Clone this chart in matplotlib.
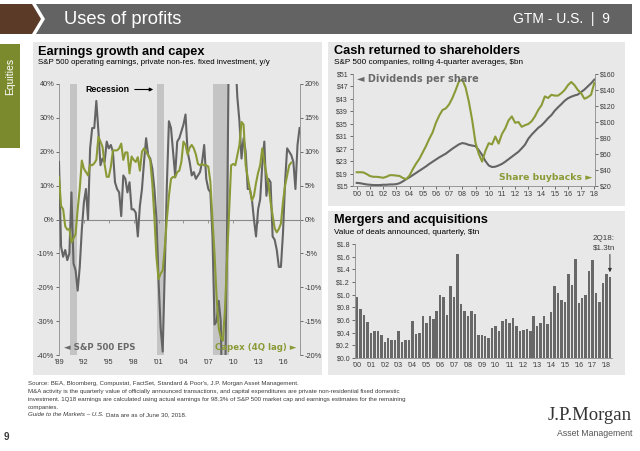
import numpy as np
import matplotlib
matplotlib.use('Agg')
import matplotlib.pyplot as plt
from matplotlib.patches import Polygon, Rectangle

plt.rcParams['font.family'] = ['Liberation Sans', 'DejaVu Sans']

# ---------------- data ----------------
# Earnings growth and capex (quarterly, y/y %), starting 1989 Q1
eps_start = 1989.0
eps_yoy = [17, -8, -11, -9,
           -12, -10, 8, -13,
           -15, -21, -14, -3,
           5, 9, 0, 21,
           27, 27, 35, 26,
           16, 18, 17, 23,
           21, 22, 20, 11,
           9, 8, 1, 13,
           12, 8, 11, 3,
           3, 2, -5, 4,
           9, 17, 24, 19,
           18, 15, 9, 0,
           -18, -32, -39, -15,
           10, 29, 27, 20,
           13, 23, 24, 26,
           28, 31, 20, 17,
           13, 14, 12, 13,
           14, 17, 22, 12,
           9, 8, -5, -31,
           -30, -24, -30, -65,
           -55, -5, 60, 150,
           80, 48, 36, 29,
           18, 24, 20, 9,
           9, 6, 0, -5,
           3, 6, 16, 23,
           7, 12, 11, -5,
           -6, -9, -14, -14,
           -4, 11, 21, 20,
           19, 17, 9, 22,
           27]
capex_start = 1989.0
capex_yoy = [6.3, 2.0, 1.5, -1.0,
             -1.5, -1.4, -3.4, -2.8,
             -2.2, 1.5, 4.5, 8.7,
             7.5, 7.0, 6.5, 8.1,
             8.0, 8.3, 8.8, 12.2,
             11.5, 10.7, 8.1, 6.3,
             6.3, 7.8, 10.2, 10.2,
             10.2, 10.5, 11.2, 8.8,
             9.9, 9.9, 6.8, 9.3,
             8.8, 8.5, 9.2, 7.2,
             10.0, 10.5, 10.0, 9.5,
             8.7, 5.3, 0.3, -5.6,
             -8.8, -8.0, -7.5, -4.1,
             0.0, 3.5, 6.0, 6.3,
             6.2, 7.0, 7.2, 8.5,
             11.5, 11.0, 9.6, 10.6,
             11.0, 10.5, 9.6, 8.2,
             8.0, 8.2, 8.0, 8.0,
             7.8, 5.5, 0.0, -5.1,
             -11.5, -16.0, -17.4, -17.9,
             -13.5, -6.0, 1.0, 8.0,
             8.2, 8.0, 9.5, 11.0,
             14.4, 14.0, 8.0, 6.2,
             4.5, 2.8, 3.5, 5.4,
             6.9, 8.0, 10.5, 8.5,
             6.7, 5.2, 2.6, 0.6,
             -1.3, -1.9, -1.4, -0.6,
             2.6, 5.0, 6.5, 8.0,
             8.4]
recession_start = [1990.35, 2000.85, 2007.6]
recession_end = [1991.15, 2001.7, 2009.45]
left_years = [1989, 1992, 1995, 1998, 2001, 2004, 2007, 2010, 2013, 2016]
left_year_labels = ["'89", "'92", "'95", "'98", "'01", "'04", "'07", "'10", "'13", "'16"]

# Cash returned to shareholders (quarterly rolling 4Q), starting 2000 Q1
cash_start = 2000.0
dividends = [16.0, 15.9, 15.7, 15.5,
             15.4, 15.3, 15.3, 15.3,
             15.4, 15.4, 15.5, 15.5,
             15.6, 15.9, 16.5, 17.2,
             17.8, 18.5, 19.2, 19.9,
             20.6, 21.3, 22.1, 22.8,
             23.5, 24.2, 24.8, 25.4,
             26.2, 27.0, 27.7, 28.4,
             28.8, 28.6, 28.2, 28.0,
             27.8, 26.5, 25.0, 23.0,
             21.6, 21.1, 21.2, 21.6,
             22.1, 22.8, 23.6, 24.4,
             25.2, 26.0, 27.1, 28.3,
             30.2, 31.5, 32.6, 33.7,
             34.5, 35.6, 36.8, 37.8,
             39.2, 40.3, 41.3, 42.4,
             43.2, 43.7, 44.1, 44.4,
             45.2, 46.0, 47.0, 48.0,
             49.2]
buybacks = [37.2, 37.2, 37.0, 35.0,
            32.5, 31.5, 31.5, 31.0,
            30.3, 31.5, 33.5, 33.5,
            33.0, 32.5, 30.0, 28.5,
            33.0, 41.0, 48.0, 54.0,
            62.0, 70.0, 79.0, 87.0,
            99.0, 108.0, 115.0, 117.0,
            122.0, 130.0, 140.0, 151.0,
            153.0, 143.0, 125.0, 102.0,
            74.0, 60.0, 50.5, 64.0,
            73.5, 72.0, 81.8, 73.0,
            85.0, 92.0, 102.0, 107.0,
            99.0, 100.0, 94.0, 96.0,
            97.5, 101.0, 107.0, 115.0,
            121.0, 132.0, 130.0, 134.0,
            133.0, 133.0, 136.0, 140.0,
            146.0, 150.0, 146.0, 140.0,
            136.0, 129.0, 131.0, 134.0,
            149.0]
cash_years = list(range(2000, 2019))
short_year_labels = ["'%02d" % (y % 100) for y in cash_years]

# M&A, value of deals announced quarterly ($tn), 1Q00 - 2Q18
ma_values = [0.97, 0.77, 0.68, 0.57,
             0.40, 0.42, 0.42, 0.36,
             0.25, 0.31, 0.29, 0.28,
             0.42, 0.26, 0.29, 0.28,
             0.59, 0.38, 0.40, 0.66,
             0.56, 0.66, 0.61, 0.74,
             0.99, 0.96, 0.68, 1.13,
             0.96, 1.64, 0.85, 0.75,
             0.66, 0.75, 0.70, 0.37,
             0.37, 0.35, 0.31, 0.48,
             0.50, 0.42, 0.59, 0.62,
             0.55, 0.63, 0.51, 0.43,
             0.44, 0.46, 0.43, 0.67,
             0.51, 0.55, 0.66, 0.53,
             0.72, 1.13, 1.03, 0.92,
             0.89, 1.32, 1.15, 1.56,
             0.87, 0.94, 0.99, 1.38,
             1.54, 1.03, 0.88, 1.19,
             1.32, 1.28]

# ---------------- styles ----------------
GRAY_LINE = '#646464'
GREEN = '#8b9a36'
PANEL = '#e8e8e8'
TXT = '#3a3a3a'
TICK = '#3a3a3a'

W, H = 640, 451
fig = plt.figure(figsize=(6.4, 4.51), dpi=100)
fig.patch.set_facecolor('white')

bg = fig.add_axes([0, 0, 1, 1], zorder=0)
bg.set_xlim(0, W)
bg.set_ylim(H, 0)
bg.axis('off')


def axes_px(x0, y0, x1, y1):
    return fig.add_axes([x0 / W, 1 - y1 / H, (x1 - x0) / W, (y1 - y0) / H], zorder=1)


# header
bg.add_patch(Polygon([(0, 4), (32, 4), (41, 19), (32, 34), (0, 34)], closed=True,
                     color='#5b3a28', lw=0))
bg.add_patch(Polygon([(36, 4), (632, 4), (632, 34), (36, 34), (45, 19)], closed=True,
                     color='#636363', lw=0))
head_font = ['Liberation Sans Narrow', 'Liberation Sans', 'DejaVu Sans']
bg.text(64, 19.5, 'Uses of profits', color='white', fontsize=13.2, va='center',
        ha='left', family=head_font)
bg.text(610, 19.5, 'GTM - U.S.  |  9', color='white', fontsize=10, va='center',
        ha='right', family=head_font)

# equities tab
bg.add_patch(Rectangle((0, 44), 20, 104, color='#7c8a2e', lw=0))
bg.text(10, 76, 'Equities', color='white', rotation=90, fontsize=7.5,
        ha='center', va='center', family=head_font)

# panels
bg.add_patch(Rectangle((33, 42), 289, 333, color=PANEL, lw=0))
bg.add_patch(Rectangle((328, 42), 297, 164, color=PANEL, lw=0))
bg.add_patch(Rectangle((328, 211), 297, 164, color=PANEL, lw=0))

# panel titles
bg.text(38, 51.5, 'Earnings growth and capex', fontsize=9.2, fontweight='bold',
        color='black', va='center')
bg.text(38, 63, 'S&P 500 operating earnings, private non-res. fixed investment, y/y',
        fontsize=5.7, color='black', va='center')
bg.text(334, 51.5, 'Cash returned to shareholders', fontsize=9.2, fontweight='bold',
        color='black', va='center')
bg.text(334, 63, 'S&P 500 companies, rolling 4-quarter averages, $bn',
        fontsize=5.9, color='black', va='center')
bg.text(334, 220.5, 'Mergers and acquisitions', fontsize=9.2, fontweight='bold',
        color='black', va='center')
bg.text(334, 232, 'Value of deals announced, quarterly, $tn',
        fontsize=5.9, color='black', va='center')


def style_ticks(ax, size=5.3):
    ax.tick_params(labelsize=size, colors=TICK, length=2, width=0.5, pad=1.5)


# ---------------- left chart ----------------
ax1 = axes_px(59, 84, 300, 355)
ax1.set_facecolor('none')
ax1.set_xlim(1989, 2018.05)
ax1.set_ylim(-40, 40)
for s, e in zip(recession_start, recession_end):
    ax1.axvspan(s, e, color='#c4c4c4', lw=0, zorder=0)
ax1.axhline(0, color='#8a8a8a', lw=0.8, zorder=1)
ax1.vlines(left_years[1:], -0.9, 0, color='#8a8a8a', lw=0.6, zorder=1)
t_eps = eps_start + 0.25 * np.arange(len(eps_yoy))
ax1.plot(t_eps, eps_yoy, color=GRAY_LINE, lw=1.5, zorder=3)
ax1.set_yticks(range(-40, 41, 10))
ax1.set_yticklabels(['%d%%' % v for v in range(-40, 41, 10)])
ax1.set_xticks(left_years)
ax1.set_xticklabels(left_year_labels)
style_ticks(ax1)
ax1.tick_params(axis='x', length=0, pad=3)
for sp in ['top', 'bottom', 'right']:
    ax1.spines[sp].set_visible(False)
ax1.spines['left'].set_color('#8a8a8a')
ax1.spines['left'].set_linewidth(0.6)

ax2 = ax1.twinx()
ax2.set_ylim(-20, 20)
t_capex = capex_start + 0.25 * np.arange(len(capex_yoy))
ax2.plot(t_capex, capex_yoy, color=GREEN, lw=1.5, zorder=4)
ax2.set_yticks(range(-20, 21, 5))
ax2.set_yticklabels(['%d%%' % v for v in range(-20, 21, 5)])
style_ticks(ax2)
for sp in ['top', 'bottom', 'left']:
    ax2.spines[sp].set_visible(False)
ax2.spines['right'].set_color('#8a8a8a')
ax2.spines['right'].set_linewidth(0.6)

# ---------------- right top chart ----------------
ax3 = axes_px(353, 74, 595, 186)
ax3.set_facecolor('none')
ax3.set_xlim(1999.72, 2018.05)
ax3.set_ylim(15, 51)
t_cash = cash_start + 0.25 * np.arange(len(dividends))
ax3.plot(t_cash, dividends, color=GRAY_LINE, lw=1.5, zorder=3)
ax3.set_yticks(range(15, 52, 4))
ax3.set_yticklabels(['$%d' % v for v in range(15, 52, 4)])
ax3.set_xticks(cash_years)
ax3.set_xticklabels(short_year_labels)
style_ticks(ax3, 5)
ax3.spines['top'].set_visible(False)
ax3.spines['right'].set_visible(False)
for sp in ['left', 'bottom']:
    ax3.spines[sp].set_color('#8a8a8a')
    ax3.spines[sp].set_linewidth(0.6)

ax4 = ax3.twinx()
ax4.set_ylim(20, 160)
ax4.plot(t_cash, buybacks, color=GREEN, lw=1.5, zorder=4)
ax4.set_yticks(range(20, 161, 20))
ax4.set_yticklabels(['$%d' % v for v in range(20, 161, 20)])
style_ticks(ax4, 5)
for sp in ['top', 'bottom', 'left']:
    ax4.spines[sp].set_visible(False)
ax4.spines['right'].set_color('#8a8a8a')
ax4.spines['right'].set_linewidth(0.6)

# ---------------- right bottom chart ----------------
ax5 = axes_px(355, 244, 612, 358)
ax5.set_facecolor('none')
qx = np.arange(len(ma_values))
ax5.bar(qx, ma_values, width=0.72, color='#686868', lw=0)
ax5.set_xlim(-0.6, len(ma_values) - 0.4)
ax5.set_ylim(0, 1.8)
ax5.set_yticks(np.arange(0, 1.81, 0.2))
ax5.set_yticklabels(['$%.1f' % v for v in np.arange(0, 1.81, 0.2)])
ax5.set_xticks(qx[::4])
ax5.set_xticklabels(short_year_labels)
style_ticks(ax5, 5)
ax5.tick_params(axis='x', length=0, pad=3)
ax5.spines['top'].set_visible(False)
ax5.spines['right'].set_visible(False)
for sp in ['left', 'bottom']:
    ax5.spines[sp].set_color('#8a8a8a')
    ax5.spines[sp].set_linewidth(0.6)
last = len(ma_values) - 1
ax5.annotate('', xy=(last, ma_values[-1] + 0.03), xytext=(last, ma_values[-1] + 0.4),
             arrowprops=dict(arrowstyle='-|>', color='#333333', lw=0.7,
                             mutation_scale=5))

# ---------------- overlay labels (on top of charts) ----------------
ov = fig.add_axes([0, 0, 1, 1], zorder=5)
ov.set_xlim(0, W)
ov.set_ylim(H, 0)
ov.axis('off')
ov.patch.set_alpha(0)

ov.text(85, 89.5, 'Recession', fontsize=6.3, fontweight='bold', color='black', va='center')
ov.annotate('', xy=(156, 89.5), xytext=(132, 89.5),
            arrowprops=dict(arrowstyle='-|>', color='black', lw=0.8,
                            mutation_scale=5))
ov.text(64, 347, '\u25c4 S&P 500 EPS', fontsize=6.2, fontweight='bold',
        color='#6a6a6a', va='center', family=['DejaVu Sans'])
ov.text(296, 347, 'Capex (4Q lag) \u25ba', fontsize=6.2, fontweight='bold',
        color=GREEN, va='center', ha='right', family=['DejaVu Sans'])
ov.text(357, 78.5, '\u25c4 Dividends per share', fontsize=7, fontweight='bold',
        color='#6a6a6a', va='center', family=['DejaVu Sans'])
ov.text(592, 178, 'Share buybacks \u25ba', fontsize=6.7, fontweight='bold',
        color=GREEN, va='center', ha='right', family=['DejaVu Sans'])
ov.text(604, 238, '2Q18:', fontsize=5.8, color=TXT, ha='center', va='center')
ov.text(604, 248, '$1.3tn', fontsize=5.8, color=TXT, ha='center', va='center')

# ---------------- footer ----------------
foot = 4.4
ov.text(28, 383, "Source: BEA, Bloomberg, Compustat, FactSet, Standard & Poor's, "
        "J.P. Morgan Asset Management.", fontsize=foot, color=TXT, va='center')
ov.text(28, 391, "M&A activity is the quarterly value of officially announced transactions, "
        "and capital expenditures are private non-residential fixed domestic",
        fontsize=foot, color=TXT, va='center')
ov.text(28, 399, "investment. 1Q18 earnings are calculated using actual earnings for 98.3% "
        "of S&P 500 market cap and earnings estimates for the remaining",
        fontsize=foot, color=TXT, va='center')
ov.text(28, 407, "companies.", fontsize=foot, color=TXT, va='center')
gt = ov.text(28, 415, "Guide to the Markets \u2013 U.S.", fontsize=foot, color=TXT,
             va='center', style='italic')
fig.canvas.draw()
bb = gt.get_window_extent(renderer=fig.canvas.get_renderer())
x_end = bb.x1 * W / (fig.get_figwidth() * fig.dpi)
ov.text(x_end + 2, 415, "Data are as of June 30, 2018.", fontsize=foot, color=TXT,
        va='center')
ov.text(4, 437, '9', fontsize=7, fontweight='bold', color=TXT, va='center')
ov.text(632, 415, 'J.P.Morgan', fontsize=13.5, color='#333333', ha='right', va='center',
        family=['Liberation Serif', 'DejaVu Serif'])
ov.text(632, 434, 'Asset Management', fontsize=6.3, color='#555555', ha='right',
        va='center', family=head_font)

fig.savefig('out.png', dpi=100)
